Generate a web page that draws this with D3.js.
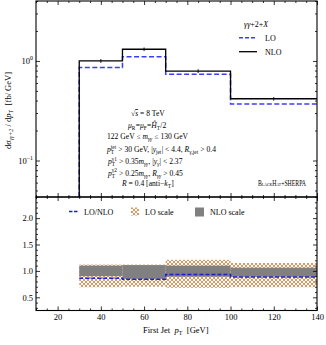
<!DOCTYPE html>
<html>
<head>
<meta charset="utf-8">
<script src="https://cdn.jsdelivr.net/npm/d3@7"></script>
<style>
  body { margin: 0; background: #fff; }
  svg text { font-family: "Liberation Serif", "DejaVu Serif", serif; fill: #000; white-space: pre; }
</style>
</head>
<body>
<div id="chart"></div>
<script>
// bins of the first jet pT [GeV]
const binEdges   = [30, 50, 70, 100, 140];
const nlo        = [1.00, 1.31, 0.79, 0.417];
const nloErr     = [0.045, 0.055, 0.035, 0.017];
const lo         = [0.857, 1.10, 0.735, 0.369];
// ratio panel
const ratio      = [0.86, 0.84, 0.93, 0.885];
const loScaleHi  = [1.12, 1.12, 1.21, 1.15];
const loScaleLo  = [0.69, 0.70, 0.68, 0.69];
const nloScaleHi = [1.10, 1.11, 1.10, 1.06];
const nloScaleLo = [0.90, 0.85, 0.89, 0.89];
// ticks
const xTicks      = [20, 40, 60, 80, 100, 120, 140];
const yTopTicks   = [0.1, 1];
const yRatioTicks = [0.5, 1.0, 1.5, 2.0];

const width  = 326;
const height = 345;
const pLeft = 36, pRight = 317, pTop = 1, pMid = 197, pBottom = 310.5;
const fs = 8.5;

const x      = d3.scaleLinear().domain([10, 140]).range([pLeft, pRight]);
const yTop   = d3.scaleLog().domain([0.043, 4]).range([pMid, pTop]);
const yRatio = d3.scaleLinear().domain([0.25, 2.4]).range([pBottom, pMid]);

const svg = d3.select("#chart").append("svg")
  .attr("width", width)
  .attr("height", height);

const defs = svg.append("defs");
const pat = defs.append("pattern")
  .attr("id", "hatch")
  .attr("patternUnits", "userSpaceOnUse")
  .attr("width", 4).attr("height", 4);
pat.append("rect").attr("width", 4).attr("height", 4).attr("fill", "#fff");
pat.append("path")
  .attr("d", "M0,0L4,4M0,4L4,0")
  .attr("stroke", "#d68d52")
  .attr("stroke-width", 0.9);

// rich text helper: segments placed one after another
function rich(g, x0, y0, segs, size) {
  let cx = x0;
  const put = (t, xx, yy, s, it, over) => {
    const el = g.append("text")
      .attr("x", xx).attr("y", yy)
      .attr("font-size", s)
      .style("font-style", it ? "italic" : "normal")
      .style("text-decoration", over ? "overline" : "none")
      .text(t);
    return el.node().getComputedTextLength();
  };
  segs.forEach(s => {
    if (s.ss) {
      const a = put(s.ss[0], cx, y0 + size * 0.28, size * 0.7, false);
      const b = put(s.ss[1], cx, y0 - size * 0.42, size * 0.7, false);
      cx += Math.max(a, b) + 0.3;
    } else if (s.sub) {
      cx += put(s.t, cx, y0 + size * 0.28, size * 0.7, s.i) + 0.3;
    } else if (s.sup) {
      cx += put(s.t, cx, y0 - size * 0.42, size * 0.7, s.i);
    } else {
      cx += put(s.t, cx, y0, size, s.i, s.over);
    }
  });
  return cx;
}
const N  = t => ({ t });
const I  = t => ({ t, i: 1 });
const S  = (t, i) => ({ t, sub: 1, i });
const SS = (a, b) => ({ ss: [a, b] });

// ---------- upper panel ----------
const up = svg.append("g");

const stepLine = d3.line()
  .x(d => x(d[0]))
  .y(d => yTop(d[1]))
  .curve(d3.curveStepAfter);

const stepPts = vals => [[binEdges[0], yTop.domain()[0]]]
  .concat(vals.map((v, i) => [binEdges[i], v]))
  .concat([[binEdges[binEdges.length - 1], vals[vals.length - 1]]]);

up.append("path")
  .attr("d", stepLine(stepPts(lo)))
  .attr("fill", "none")
  .attr("stroke", "#3c3cf2")
  .attr("stroke-width", 1.5)
  .attr("stroke-dasharray", "5,2.5");

up.append("path")
  .attr("d", stepLine(stepPts(nlo)))
  .attr("fill", "none")
  .attr("stroke", "#000")
  .attr("stroke-width", 1.3);

up.selectAll(".err").data(nlo).enter().append("line")
  .attr("x1", (d, i) => x((binEdges[i] + binEdges[i + 1]) / 2))
  .attr("x2", (d, i) => x((binEdges[i] + binEdges[i + 1]) / 2))
  .attr("y1", (d, i) => yTop(d + nloErr[i]))
  .attr("y2", (d, i) => yTop(d - nloErr[i]))
  .attr("stroke", "#000")
  .attr("stroke-width", 0.9);

// ---------- ratio panel ----------
const lw = svg.append("g");
const bins = ratio.map((r, i) => i);
const bx0 = i => x(binEdges[i]);
const bw  = i => x(binEdges[i + 1]) - x(binEdges[i]);

lw.selectAll(".lo-band").data(bins).enter().append("rect")
  .attr("x", bx0).attr("width", bw)
  .attr("y", i => yRatio(loScaleHi[i]))
  .attr("height", i => yRatio(loScaleLo[i]) - yRatio(loScaleHi[i]))
  .attr("fill", "url(#hatch)");

lw.selectAll(".nlo-band").data(bins).enter().append("rect")
  .attr("x", bx0).attr("width", bw)
  .attr("y", i => yRatio(nloScaleHi[i]))
  .attr("height", i => yRatio(nloScaleLo[i]) - yRatio(nloScaleHi[i]))
  .attr("fill", "#808080");

const ratioLine = d3.line()
  .x(d => x(d[0]))
  .y(d => yRatio(d[1]))
  .curve(d3.curveStepAfter);
lw.append("path")
  .attr("d", ratioLine(ratio.map((v, i) => [binEdges[i], v]).concat([[binEdges[4], ratio[3]]])))
  .attr("fill", "none")
  .attr("stroke", "#1c1cd6")
  .attr("stroke-width", 1.5)
  .attr("stroke-dasharray", "4,2");

// ---------- axes / frames ----------
function ticks(axisFn, scale, values, len, transform, fmt) {
  const g = svg.append("g")
    .attr("transform", transform)
    .call(axisFn(scale).tickValues(values).tickSize(-len).tickPadding(3)
      .tickFormat(fmt || ""));
  g.select(".domain").remove();
  g.selectAll("line").attr("stroke", "#000").attr("stroke-width", 0.8);
  g.selectAll("text").attr("font-size", fs).attr("font-family", "Liberation Serif");
  return g;
}
const xMinor = d3.range(10, 141, 5).filter(v => !xTicks.includes(v));
const yTopMinor = [0.05, 0.06, 0.07, 0.08, 0.09, 0.2, 0.3, 0.4, 0.5, 0.6, 0.7, 0.8, 0.9, 2, 3, 4];
const yRatioMinor = d3.range(3, 25).map(v => v / 10).filter(v => !yRatioTicks.includes(v));

[["translate(0," + pTop + ")", d3.axisTop], ["translate(0," + pMid + ")", d3.axisBottom],
 ["translate(0," + pMid + ")", d3.axisTop]].forEach(([tr, fn]) => {
  ticks(fn, x, xTicks, 4, tr);
  ticks(fn, x, xMinor, 2, tr);
});
ticks(d3.axisBottom, x, xTicks, 4, "translate(0," + pBottom + ")", d3.format("d"));
ticks(d3.axisBottom, x, xMinor, 2, "translate(0," + pBottom + ")");

[["translate(" + pLeft + ",0)", d3.axisLeft], ["translate(" + pRight + ",0)", d3.axisRight]].forEach(([tr, fn]) => {
  ticks(fn, yTop, yTopTicks, 4, tr);
  ticks(fn, yTop, yTopMinor, 2, tr);
  ticks(fn, yRatio, yRatioMinor, 2, tr);
});
ticks(d3.axisLeft, yRatio, yRatioTicks, 4, "translate(" + pLeft + ",0)", d3.format(".1f"));
ticks(d3.axisRight, yRatio, yRatioTicks, 4, "translate(" + pRight + ",0)");

// log labels 10^0, 10^-1
yTopTicks.forEach(v => {
  const e = Math.round(Math.log10(v));
  const t = svg.append("text")
    .attr("x", pLeft - 3).attr("y", yTop(v) + 3)
    .attr("text-anchor", "end")
    .attr("font-size", fs);
  t.append("tspan").text("10");
  t.append("tspan").attr("font-size", fs * 0.7).attr("dy", -4).text(e === 0 ? "0" : "\u2212" + Math.abs(e));
});

svg.append("rect")
  .attr("x", pLeft).attr("y", pTop).attr("width", pRight - pLeft).attr("height", pMid - pTop)
  .attr("fill", "none").attr("stroke", "#000").attr("stroke-width", 1.1);
svg.append("rect")
  .attr("x", pLeft).attr("y", pMid).attr("width", pRight - pLeft).attr("height", pBottom - pMid)
  .attr("fill", "none").attr("stroke", "#000").attr("stroke-width", 1.1);

// ---------- texts ----------
const tg = svg.append("g");
rich(tg, 244, 27, [I("γγ"), N("+2+"), I("X")], 8);

tg.append("line").attr("x1", 239).attr("x2", 257).attr("y1", 37.7).attr("y2", 37.7)
  .attr("stroke", "#3c3cf2").attr("stroke-width", 1.5).attr("stroke-dasharray", "4,2");
tg.append("text").attr("x", 265).attr("y", 40.6).attr("font-size", 8).text("LO");
tg.append("line").attr("x1", 239).attr("x2", 257).attr("y1", 51.7).attr("y2", 51.7)
  .attr("stroke", "#000").attr("stroke-width", 1.3);
tg.append("text").attr("x", 265).attr("y", 54.6).attr("font-size", 8).text("NLO");

const cuts = [
  [131, 116, [N("√"), { t: "s", i: 1, over: 1 }, N(" = 8 TeV")]],
  [128, 127.5, [I("μ"), S("R"), N("="), I("μ"), S("F"), N("="), I("Ĥ"), S("T"), N("/2")]],
  [107, 139, [N("122 GeV ≤ "), I("m"), S("γγ", 1), N(" ≤ 130 GeV")]],
  [107, 152, [I("p"), SS("T", "jet"), N(" > 30 GeV, |"), I("y"), S("jet"), N("| < 4.4, "), I("R"), S("γ,jet"), N(" > 0.4")]],
  [108, 164, [I("p"), SS("T", "γ1"), N(" > 0.35"), I("m"), S("γγ", 1), N(", |"), I("y"), S("γ", 1), N("| < 2.37")]],
  [108, 175.5, [I("p"), SS("T", "γ2"), N(" > 0.25"), I("m"), S("γγ", 1), N(", "), I("R"), S("γγ", 1), N(" > 0.45")]],
  [122, 185.5, [I("R"), N(" = 0.4 [anti−"), I("k"), S("T"), N("]")]]
];
cuts.forEach(c => rich(tg, c[0], c[1], c[2], 7.6));

tg.append("text").attr("x", 258).attr("y", 185.5).attr("font-size", 7.5)
  .attr("textLength", 48).attr("lengthAdjust", "spacingAndGlyphs")
  .style("font-variant", "small-caps").text("BlackHat+SHERPA");

// ratio legend
tg.append("line").attr("x1", 69).attr("x2", 78).attr("y1", 211.5).attr("y2", 211.5)
  .attr("stroke", "#1c1cd6").attr("stroke-width", 1.5).attr("stroke-dasharray", "3.5,1.5");
tg.append("text").attr("x", 84).attr("y", 214.5).attr("font-size", 8).text("LO/NLO");
tg.append("rect").attr("x", 131).attr("y", 207.5).attr("width", 8).attr("height", 8)
  .attr("fill", "url(#hatch)");
tg.append("text").attr("x", 145).attr("y", 214.5).attr("font-size", 8).text("LO scale");
tg.append("rect").attr("x", 195).attr("y", 207.5).attr("width", 9).attr("height", 9)
  .attr("fill", "#808080");
tg.append("text").attr("x", 210).attr("y", 214.5).attr("font-size", 8).text("NLO scale");

// axis titles
const yl = svg.append("g").attr("transform", "translate(11,149) rotate(-90)");
rich(yl, 0, 0, [N("d"), I("σ"), S("γγ+2", 1), N(" / d"), I("p"), S("T"), N("  [fb/ GeV]")], 8.5);

const xl = svg.append("g");
rich(xl, 143, 333, [N("First Jet  "), I("p"), S("T"), N("  [GeV]")], 8.5);
</script>
</body>
</html>
